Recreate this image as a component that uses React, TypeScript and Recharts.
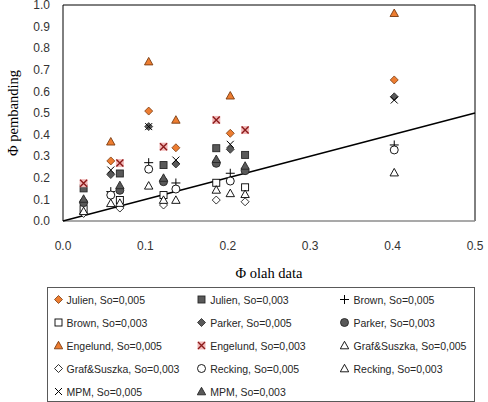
import { ScatterChart, Scatter, XAxis, YAxis, ReferenceLine, Legend } from "recharts";

// x values (Φ olah data), one set per slope
const xSo005 = [0.058, 0.104, 0.137, 0.203, 0.402];
const xSo003 = [0.025, 0.069, 0.122, 0.186, 0.221];

// y values (Φ pembanding) per method
const julien005 = [0.278, 0.509, 0.339, 0.406, 0.653];
const julien003 = [0.151, 0.22, 0.259, 0.337, 0.306];
const brown005 = [0.136, 0.27, 0.176, 0.221, 0.352];
const brown003 = [0.055, 0.097, 0.12, 0.177, 0.156];
const parker005 = [0.215, 0.437, 0.264, 0.332, 0.575];
const parker003 = [0.085, 0.142, 0.182, 0.267, 0.233];
const engelund005 = [0.367, 0.738, 0.468, 0.58, 0.962];
const engelund003 = [0.175, 0.268, 0.344, 0.468, 0.421];
const graf005 = [0.082, 0.163, 0.097, 0.128, 0.224];
const graf003 = [0.035, 0.06, 0.074, 0.097, 0.089];
const recking005 = [0.12, 0.24, 0.148, 0.185, 0.329];
const recking003 = [0.045, 0.083, 0.097, 0.144, 0.124];
const mpm005 = [0.236, 0.437, 0.282, 0.355, 0.56];
const mpm003 = [0.102, 0.165, 0.199, 0.286, 0.255];

// 1:1 line
const lineX = [0, 0.5];
const lineY = [0, 0.5];

const xTicks = [0, 0.1, 0.2, 0.3, 0.4, 0.5];
const yTicks = [0, 0.1, 0.2, 0.3, 0.4, 0.5, 0.6, 0.7, 0.8, 0.9, 1.0];

type Kind = "diamond" | "square" | "plus" | "circle" | "triangle" | "cross" | "xbox";

const ORANGE = "#ED7D31";
const ORANGE_EDGE = "#7a3b10";
const DARK = "#595959";

const series: { name: string; xs: number[]; ys: number[]; kind: Kind; fill: string; stroke: string }[] = [
  { name: "Julien, So=0,005", xs: xSo005, ys: julien005, kind: "diamond", fill: ORANGE, stroke: ORANGE_EDGE },
  { name: "Julien, So=0,003", xs: xSo003, ys: julien003, kind: "square", fill: DARK, stroke: "#262626" },
  { name: "Brown, So=0,005", xs: xSo005, ys: brown005, kind: "plus", fill: "none", stroke: "#000" },
  { name: "Brown, So=0,003", xs: xSo003, ys: brown003, kind: "square", fill: "#fff", stroke: "#000" },
  { name: "Parker, So=0,005", xs: xSo005, ys: parker005, kind: "diamond", fill: DARK, stroke: "#262626" },
  { name: "Parker, So=0,003", xs: xSo003, ys: parker003, kind: "circle", fill: DARK, stroke: "#262626" },
  { name: "Engelund, So=0,005", xs: xSo005, ys: engelund005, kind: "triangle", fill: ORANGE, stroke: ORANGE_EDGE },
  { name: "Engelund, So=0,003", xs: xSo003, ys: engelund003, kind: "xbox", fill: "#f2b8b8", stroke: "#8b1a1a" },
  { name: "Graf&Suszka, So=0,005", xs: xSo005, ys: graf005, kind: "triangle", fill: "#fff", stroke: "#000" },
  { name: "Graf&Suszka, So=0,003", xs: xSo003, ys: graf003, kind: "diamond", fill: "#fff", stroke: "#000" },
  { name: "Recking, So=0,005", xs: xSo005, ys: recking005, kind: "circle", fill: "#fff", stroke: "#000" },
  { name: "Recking, So=0,003", xs: xSo003, ys: recking003, kind: "triangle", fill: "#fff", stroke: "#000" },
  { name: "MPM, So=0,005", xs: xSo005, ys: mpm005, kind: "cross", fill: "none", stroke: "#000" },
  { name: "MPM, So=0,003", xs: xSo003, ys: mpm003, kind: "triangle", fill: DARK, stroke: "#262626" },
];

const Marker = ({ kind, cx, cy, fill, stroke }: { kind: Kind; cx: number; cy: number; fill: string; stroke: string }) => {
  const s = 4;
  switch (kind) {
    case "diamond":
      return <polygon points={`${cx},${cy - s} ${cx + s},${cy} ${cx},${cy + s} ${cx - s},${cy}`} fill={fill} stroke={stroke} strokeWidth={0.8} />;
    case "square":
      return <rect x={cx - 3.5} y={cy - 3.5} width={7} height={7} fill={fill} stroke={stroke} strokeWidth={0.9} />;
    case "circle":
      return <circle cx={cx} cy={cy} r={4} fill={fill} stroke={stroke} strokeWidth={0.9} />;
    case "triangle":
      return <polygon points={`${cx},${cy - 4.2} ${cx + 4.2},${cy + 3.3} ${cx - 4.2},${cy + 3.3}`} fill={fill} stroke={stroke} strokeWidth={0.9} />;
    case "plus":
      return <path d={`M${cx - 4.5},${cy}H${cx + 4.5}M${cx},${cy - 4.5}V${cy + 4.5}`} stroke={stroke} strokeWidth={1} fill="none" />;
    case "cross":
      return <path d={`M${cx - 3.5},${cy - 3.5}L${cx + 3.5},${cy + 3.5}M${cx + 3.5},${cy - 3.5}L${cx - 3.5},${cy + 3.5}`} stroke={stroke} strokeWidth={1} fill="none" />;
    case "xbox":
      return (
        <g>
          <rect x={cx - 4} y={cy - 4} width={8} height={8} fill={fill} />
          <path d={`M${cx - 3.5},${cy - 3.5}L${cx + 3.5},${cy + 3.5}M${cx + 3.5},${cy - 3.5}L${cx - 3.5},${cy + 3.5}`} stroke={stroke} strokeWidth={1.4} fill="none" />
        </g>
      );
  }
  return null;
};

const renderLegend = () => (
  <div
    style={{
      boxSizing: "border-box",
      width: 428,
      height: 115,
      border: "1px solid #595959",
      display: "grid",
      gridTemplateColumns: "143.7px 143.3px 139px",
      gridAutoRows: "23px",
      paddingLeft: 5.5,
      fontFamily: "Liberation Sans, Arial, sans-serif",
      fontSize: 10.5,
      color: "#262626",
      background: "#fff",
    }}
  >
    {series.map((s) => (
      <div key={s.name} style={{ display: "flex", alignItems: "center", whiteSpace: "nowrap" }}>
        <svg width={9} height={9} style={{ marginRight: 4, flex: "none" }}>
          <Marker kind={s.kind} cx={4.5} cy={4.5} fill={s.fill} stroke={s.stroke} />
        </svg>
        <span>{s.name}</span>
      </div>
    ))}
  </div>
);

const tickStyle = { fontFamily: "Liberation Sans, Arial, sans-serif", fontSize: 12, fill: "#333" };

export default function App() {
  const lineData = lineX.map((x, i) => ({ x, y: lineY[i] }));
  return (
    <div style={{ position: "absolute", left: 0, top: 0, width: 488, height: 402, background: "#fff" }}>
      <ScatterChart width={488} height={402} margin={{ top: 5, right: 13, bottom: 121, left: 0 }}>
        <XAxis
          type="number"
          dataKey="x"
          domain={[0, 0.5]}
          ticks={xTicks}
          interval={0}
          tickFormatter={(v: number) => v.toFixed(1)}
          height={60}
          tickLine={false}
          tickSize={0}
          tickMargin={20}
          axisLine={{ stroke: "#8c8c8c", strokeWidth: 1.5 }}
          tick={tickStyle}
          label={{
            value: "Φ olah data",
            position: "insideBottom",
            offset: 3.5,
            style: { fontFamily: "Liberation Serif, Times New Roman, serif", fontSize: 14.5, fill: "#000" },
          }}
        />
        <YAxis
          type="number"
          dataKey="y"
          domain={[0, 1]}
          ticks={yTicks}
          interval={0}
          tickFormatter={(v: number) => v.toFixed(1)}
          width={63}
          tickLine={false}
          tickSize={0}
          tickMargin={13}
          axisLine={{ stroke: "#000" }}
          tick={tickStyle}
          label={{
            value: "Φ pembanding",
            angle: -90,
            position: "insideLeft",
            offset: 13,
            style: { textAnchor: "middle", fontFamily: "Liberation Serif, Times New Roman, serif", fontSize: 14.5, fill: "#000" },
          }}
        />
        <ReferenceLine y={1} stroke="#000" />
        <ReferenceLine x={0.5} stroke="#000" />
        <Legend verticalAlign="middle" layout="horizontal" content={renderLegend} wrapperStyle={{ left: 47, top: 287, width: 428 }} />
        <Scatter
          data={lineData}
          line={{ stroke: "#000", strokeWidth: 1.5 }}
          shape={() => <g />}
          isAnimationActive={false}
          legendType="none"
        />
        {series.map((s) => (
          <Scatter
            key={s.name}
            name={s.name}
            data={s.xs.map((x, i) => ({ x, y: s.ys[i] }))}
            isAnimationActive={false}
            shape={(p: any) => <Marker kind={s.kind} cx={p.cx} cy={p.cy} fill={s.fill} stroke={s.stroke} />}
          />
        ))}
      </ScatterChart>
    </div>
  );
}
